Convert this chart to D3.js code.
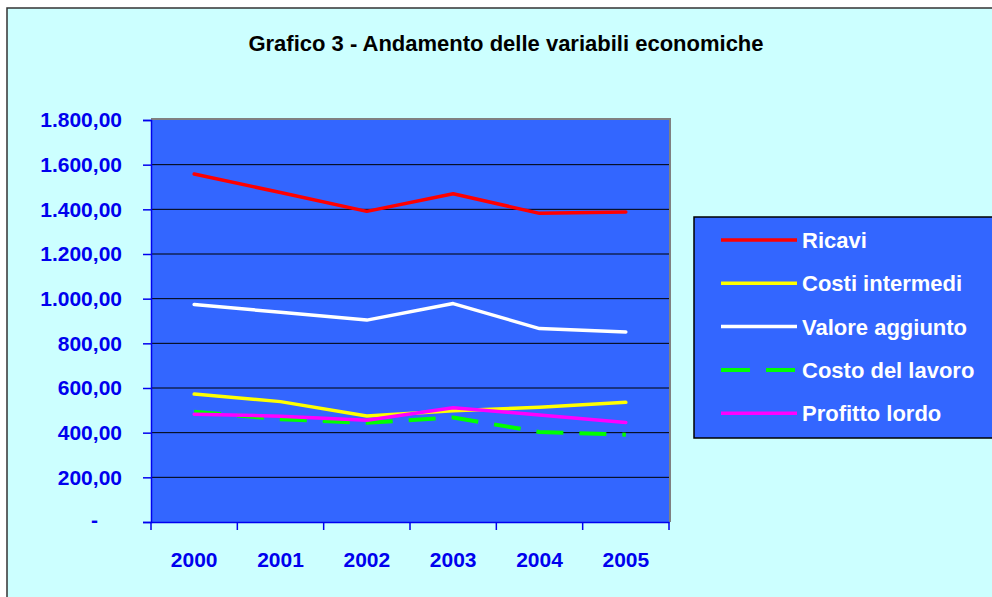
<!DOCTYPE html>
<html>
<head>
<meta charset="utf-8">
<script src="https://cdn.jsdelivr.net/npm/d3@7"></script>
<style>
  body { margin: 0; background: #fff; }
  svg { display: block; }
  text { font-family: "Liberation Sans", Arial, sans-serif; font-weight: bold; }
</style>
</head>
<body>
<svg id="chart"></svg>
<script>
// data
const years = ["2000", "2001", "2002", "2003", "2004", "2005"];
const ricavi = [1558, 1475, 1391, 1470, 1382, 1388];
const costiIntermedi = [573, 539, 475, 498, 514, 536];
const valoreAggiunto = [974, 939, 904, 978, 866, 851];
const costoLavoro = [494, 460, 444, 468, 403, 391];
const profittoLordo = [483, 474, 456, 512, 479, 446];
const yTicks = [0, 200, 400, 600, 800, 1000, 1200, 1400, 1600, 1800];

const series = [
  { name: "Ricavi", values: ricavi, color: "#ff0000", dash: null },
  { name: "Costi intermedi", values: costiIntermedi, color: "#ffff00", dash: null },
  { name: "Valore aggiunto", values: valoreAggiunto, color: "#ffffff", dash: null },
  { name: "Costo del lavoro", values: costoLavoro, color: "#00ff00", dash: "27,16" },
  { name: "Profitto lordo", values: profittoLordo, color: "#ff00ff", dash: null }
];

const W = 992, H = 597;
const plot = { left: 151, right: 669, top: 120, bottom: 522 };

const svg = d3.select("#chart").attr("width", W).attr("height", H);

// chart area background + border
svg.append("rect")
  .attr("x", 7).attr("y", 8).attr("width", W + 10).attr("height", H + 10)
  .attr("fill", "#ccffff").attr("stroke", "#333").attr("stroke-width", 1.5);

svg.append("text")
  .attr("x", 506).attr("y", 51)
  .attr("text-anchor", "middle")
  .attr("font-size", 22)
  .attr("fill", "#000")
  .text("Grafico 3 - Andamento delle variabili economiche");

const x = d3.scaleBand().domain(years).range([plot.left, plot.right]);
const y = d3.scaleLinear().domain([0, 1800]).range([plot.bottom, plot.top]);

// plot background with grey edge top/right
svg.append("rect")
  .attr("x", plot.left).attr("y", plot.top - 2)
  .attr("width", plot.right - plot.left + 2).attr("height", plot.bottom - plot.top + 2)
  .attr("fill", "#808080");
svg.append("rect")
  .attr("x", plot.left).attr("y", plot.top)
  .attr("width", plot.right - plot.left).attr("height", plot.bottom - plot.top)
  .attr("fill", "#3366ff");

// gridlines
svg.append("g")
  .selectAll("line")
  .data(yTicks.filter(d => d > 0 && d < 1800))
  .join("line")
  .attr("x1", plot.left).attr("x2", plot.right)
  .attr("y1", d => y(d)).attr("y2", d => y(d))
  .attr("stroke", "#000").attr("stroke-width", 1);

// y axis
const it = d3.formatLocale({ decimal: ",", thousands: ".", grouping: [3], currency: ["€", ""] });
const fmt = it.format(",.2f");
const yAxis = svg.append("g")
  .attr("transform", `translate(${plot.left},0)`)
  .call(d3.axisLeft(y).tickValues(yTicks).tickSize(8).tickPadding(21)
    .tickFormat(d => d === 0 ? "-" : fmt(d)));
yAxis.select(".domain").attr("stroke", "#0000ee").attr("stroke-width", 1.5);
yAxis.selectAll(".tick line").attr("stroke", "#0000ee").attr("stroke-width", 1.5);
yAxis.selectAll(".tick text")
  .attr("fill", "#0000ee").attr("font-size", 21)
  .attr("font-family", "Liberation Sans, Arial, sans-serif")
  .attr("font-weight", "bold");
yAxis.selectAll(".tick text").filter(d => d === 0).attr("dx", -24).attr("dy", "0.2em");

// x axis
const xAxis = svg.append("g")
  .attr("transform", `translate(0,${plot.bottom})`)
  .call(d3.axisBottom(x).tickSize(0).tickPadding(30));
xAxis.select(".domain").attr("stroke", "#0000ee").attr("stroke-width", 1.5);
xAxis.selectAll(".tick text")
  .attr("fill", "#0000ee").attr("font-size", 21)
  .attr("font-family", "Liberation Sans, Arial, sans-serif")
  .attr("font-weight", "bold");
// category separators
svg.append("g")
  .selectAll("line")
  .data(years.concat(["end"]))
  .join("line")
  .attr("x1", (d, i) => i < years.length ? x(d) : plot.right)
  .attr("x2", (d, i) => i < years.length ? x(d) : plot.right)
  .attr("y1", plot.bottom).attr("y2", plot.bottom + 8)
  .attr("stroke", "#0000ee").attr("stroke-width", 1.5);

// lines
const line = d3.line()
  .x((d, i) => x(years[i]) + x.bandwidth() / 2)
  .y(d => y(d));

svg.append("g")
  .selectAll("path")
  .data(series)
  .join("path")
  .attr("d", d => line(d.values))
  .attr("fill", "none")
  .attr("stroke", d => d.color)
  .attr("stroke-width", d => d.dash ? 4 : 3.5)
  .attr("stroke-dasharray", d => d.dash)
  .attr("stroke-linejoin", "round")
  .attr("stroke-linecap", d => d.dash ? "butt" : "round");

// legend
const legend = svg.append("g");
legend.append("rect")
  .attr("x", 694).attr("y", 217).attr("width", 310).attr("height", 221)
  .attr("fill", "#3366ff").attr("stroke", "#000").attr("stroke-width", 1.5);

const rows = legend.selectAll("g.row")
  .data(series)
  .join("g")
  .attr("class", "row")
  .attr("transform", (d, i) => `translate(0,${240 + i * 43.3})`);
rows.append("line")
  .attr("x1", 721).attr("x2", 797)
  .attr("y1", 0).attr("y2", 0)
  .attr("stroke", d => d.color)
  .attr("stroke-width", d => d.dash ? 4 : 3.5)
  .attr("stroke-dasharray", d => d.dash ? "29,16" : null);
rows.append("text")
  .attr("x", 802).attr("y", 0).attr("dy", "0.36em")
  .attr("font-size", 22)
  .attr("fill", "#fff")
  .text(d => d.name);
</script>
</body>
</html>
